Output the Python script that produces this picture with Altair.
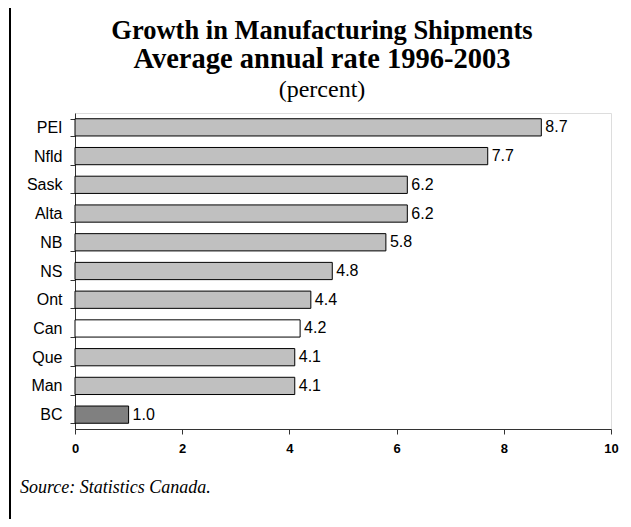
import altair as alt
import pandas as pd

regions = ["PEI", "Nfld", "Sask", "Alta", "NB", "NS", "Ont", "Can", "Que", "Man", "BC"]
growth = [8.7, 7.7, 6.2, 6.2, 5.8, 4.8, 4.4, 4.2, 4.1, 4.1, 1.0]
fills = ["#C0C0C0"] * 7 + ["#FFFFFF", "#C0C0C0", "#C0C0C0", "#808080"]
labels = [f"{v:.1f}" for v in growth]

df = pd.DataFrame({"region": regions, "growth": growth, "fill": fills, "label": labels})

W, H = 536, 316
SERIF = "Liberation Serif, Times New Roman, serif"
SANS = "Liberation Sans, Arial, sans-serif"

y_enc = alt.Y("region:N", sort=regions, title=None,
              scale=alt.Scale(paddingInner=0.4, paddingOuter=0.2),
              axis=alt.Axis(labelFont=SANS, labelFontSize=16, labelColor="black",
                            labelPadding=8, tickSize=5, tickBand="extent", tickColor="#333",
                            domainColor="#333", ticks=True))
x_enc = alt.X("growth:Q", title=None,
              scale=alt.Scale(domain=[0, 10], nice=False),
              axis=alt.Axis(values=[0, 2, 4, 6, 8, 10], grid=False, labelFont=SANS,
                            labelFontSize=13, labelFontWeight="bold", labelColor="black",
                            tickSize=5, tickColor="#333", domainColor="#333", labelPadding=8,
                            labelFlush=False))

bars = alt.Chart(df).mark_bar(stroke="black", strokeWidth=1).encode(
    x=x_enc, y=y_enc, fill=alt.Fill("fill:N", scale=None)
)
vals = alt.Chart(df).mark_text(align="left", baseline="middle", dx=4, font=SANS,
                               fontSize=16, color="black").encode(
    x="growth:Q", y=alt.Y("region:N", sort=regions), text="label:N"
)

src_df = pd.DataFrame({"t": ["Source: Statistics Canada."]})
source = alt.Chart(src_df).mark_text(align="left", baseline="middle", font="Liberation Serif",
                                     fontSize=18, fontStyle="italic", color="black").encode(
    x=alt.value(-55), y=alt.value(375), text="t:N"
)

pct_df = pd.DataFrame({"t": ["(percent)"]})
pct = alt.Chart(pct_df).mark_text(align="center", baseline="alphabetic", font=SERIF,
                                  fontSize=24, color="black").encode(
    x=alt.value(247), y=alt.value(-16), text="t:N"
)

border_df = pd.DataFrame({"k": [1]})
left_rule = alt.Chart(border_df).mark_rule(color="black", strokeWidth=2).encode(
    x=alt.value(-65), x2=alt.value(-65), y=alt.value(-108), y2=alt.value(420)
)
top_rule = alt.Chart(border_df).mark_rule(color="black", strokeWidth=2).encode(
    x=alt.value(-66), x2=alt.value(560), y=alt.value(-107), y2=alt.value(-107)
)

chart = alt.layer(bars, vals, source, pct, left_rule, top_rule).properties(
    width=W, height=H,
    title=alt.TitleParams(
        text="Growth in Manufacturing Shipments",
        subtitle="Average annual rate 1996-2003",
        font=SERIF, fontSize=26.5, fontWeight="bold", color="black",
        subtitleFont=SERIF, subtitleFontSize=28.5, subtitleFontWeight="bold", subtitleColor="black",
        subtitlePadding=0, anchor="middle", dx=-21, offset=0, dy=69,
    ),
    autosize=alt.AutoSizeParams(type="none"),
    padding={"left": 67, "top": 105, "right": 12, "bottom": 90},
).configure_view(stroke=None).configure(background="white")

chart.save("out.html", embed_options={"renderer": "svg", "actions": False})
